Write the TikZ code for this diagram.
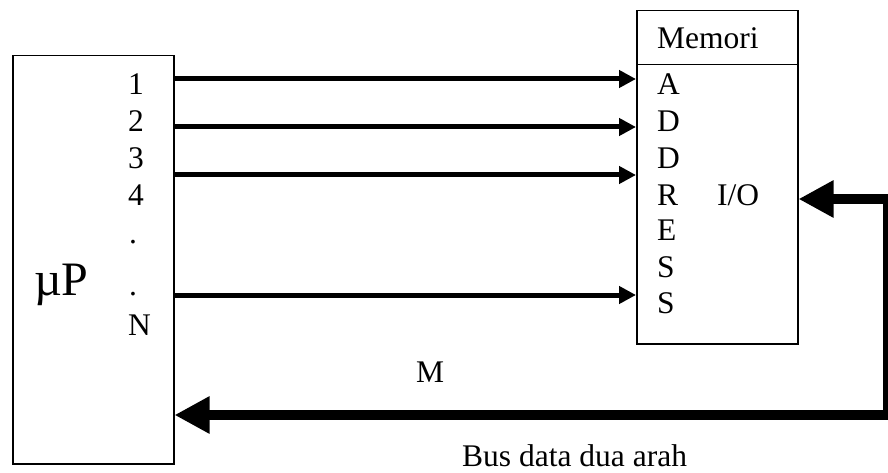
\documentclass[tikz,border=0pt]{standalone}
\usepackage{fontspec}
\setmainfont{Liberation Serif}
\usetikzlibrary{arrows.meta}
\begin{document}
\begin{tikzpicture}[x=1pt,y=-1pt,
  box/.style={draw, line width=1.5pt, inner sep=0pt, anchor=north west},
  lbl/.style={inner sep=0pt, anchor=base west, font=\fontsize{31.5}{36}\selectfont},
  addr/.style={line width=5pt, -{Triangle[length=17pt,width=17pt]}},
  bus/.style={line width=10.5pt, line join=miter,
    {Triangle[length=35pt,width=35pt]}-{Triangle[length=35pt,width=35pt]}}]
\useasboundingbox (0,0) rectangle (888,473);
\fill[white] (0,0) rectangle (888,473);

% microprocessor block
\node[box, minimum width=161, minimum height=408] (mp) at (12,55) {};
\node[lbl, font=\fontsize{48}{52}\selectfont] (mu) at (34,295) {µP};

% memory block: title cell and body
\node[box, minimum width=161, minimum height=54] (memhead) at (636,10) {};
\node[box, minimum width=161, minimum height=279] (membody) at (636,64) {};
\node[lbl] (memt) at (657,49) {Memori};

% pin numbers of the processor
\node[lbl] (p1) at (128,95) {1};
\node[lbl] (p2) at (128,132) {2};
\node[lbl] (p3) at (128,168) {3};
\node[lbl] (p4) at (128,205) {4};
\node[lbl] (pd1) at (129,243) {.};
\node[lbl] (pd2) at (129,295) {.};
\node[lbl] (pn) at (128,335) {N};

% ADDRESS letters
\node[lbl] (a1) at (657,95) {A};
\node[lbl] (a2) at (657,132) {D};
\node[lbl] (a3) at (657,168) {D};
\node[lbl] (a4) at (657,205) {R};
\node[lbl] (a5) at (657,240) {E};
\node[lbl] (a6) at (657,277) {S};
\node[lbl] (a7) at (657,313) {S};
\node[lbl] (io) at (717,205) {I/O};

% address lines
\coordinate (r1) at (0,79);
\coordinate (r2) at (0,127);
\coordinate (r3) at (0,175);
\coordinate (r4) at (0,295);
\draw[addr] (mp.east |- r1) -- (membody.west |- r1);
\draw[addr] (mp.east |- r2) -- (membody.west |- r2);
\draw[addr] (mp.east |- r3) -- (membody.west |- r3);
\draw[addr] (mp.east |- r4) -- (membody.west |- r4);

% bidirectional data bus
\coordinate (bt) at (888,199);
\coordinate (bb) at (888,415);
\draw[bus] (membody.east |- bt) -- (bt) -- (bb) -- (mp.east |- bb);

\node[lbl] (m) at (416,382) {M};
\node[lbl] (busl) at (462,466) {Bus data dua arah};
\end{tikzpicture}
\end{document}
